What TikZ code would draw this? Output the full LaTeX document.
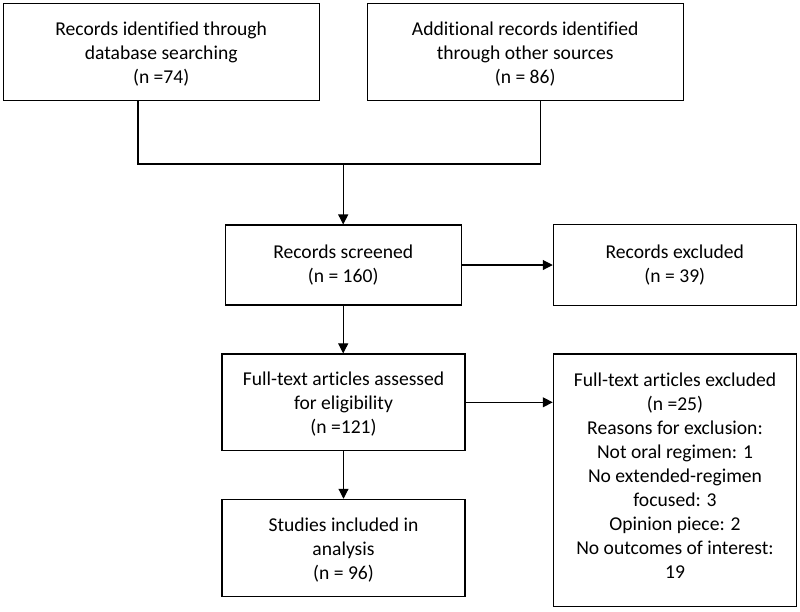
\documentclass[tikz,border=0pt]{standalone}
\usepackage{fontspec}
\setmainfont{Carlito}[Ligatures=NoCommon]
\usetikzlibrary{positioning, arrows.meta}

\begin{document}
\begin{tikzpicture}[x=1pt, y=-1pt,
    box/.style={draw=black, line width=1.1pt, align=center, inner sep=0pt, fill=white,
        font=\fontsize{19.6}{24}\selectfont},
    three/.style={text height=62.6pt, text depth=0pt},
    wide/.style={box, three, minimum width=315.7pt, minimum height=96.7pt},
    narrow/.style={box, minimum width=243pt},
    flow/.style={draw=black, line width=1.1pt, -{Triangle[length=10pt, width=10pt]}},
    link/.style={draw=black, line width=1.1pt}
    ]
    \useasboundingbox (0,0) rectangle (800,611);

    % identification
    \node[wide] (database) at (161.2,52) {Records identified through\\database searching\\(n =74)};
    \node[wide] (other) at (525.2,52.2) {Additional records identified\\through other sources\\(n = 86)};

    % screening
    \node[box, minimum width=235.7pt, minimum height=80pt] (screened) at (343.2,265) {Records screened\\(n = 160)};
    \node[narrow, minimum height=80.3pt] (excluded) at (674.8,265) {Records excluded\\(n = 39)};

    % eligibility
    \node[narrow, three, minimum height=96.7pt] (fulltext) at (343.5,402.3) {Full-text articles assessed\\for eligibility\\(n =121)};
    \node[narrow, text height=196pt, text depth=0pt, minimum width=243.4pt, minimum height=252.7pt] (fullexcl) at (675,480.3)
        {Full-text articles excluded\\(n =25)\\Reasons for exclusion:\\Not oral regimen: 1\\No extended-regimen\\focused: 3\\Opinion piece: 2\\No outcomes of interest:\\19};

    % included
    \node[narrow, three, minimum height=97.4pt] (included) at (343.5,548) {Studies included in\\analysis\\(n = 96)};

    % joining the two sources
    \coordinate (dbfoot) at ([xshift=-23.2pt]database.south);
    \coordinate (otfoot) at ([xshift=15.5pt]other.south);
    \coordinate (join) at (343.2,164);
    \path[link] (dbfoot) -- (dbfoot |- join) -- (otfoot |- join) -- (otfoot);
    \path[flow] (join) -- (screened.north);

    % downward and sideways arrows
    \path[flow] (screened.east) -- (excluded.west);
    \path[flow] (screened.south) -- (fulltext.north -| screened.south);
    \path[flow] (fulltext.east) -- (fulltext.east -| fullexcl.west);
    \path[flow] (fulltext.south) -- (included.north);

\end{tikzpicture}
\end{document}
